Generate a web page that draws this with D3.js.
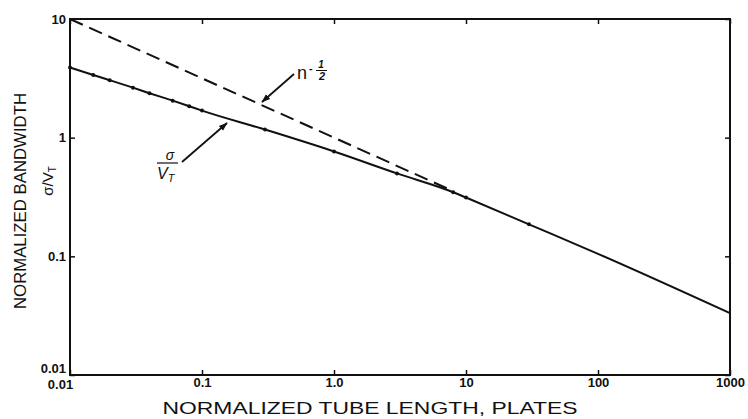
<!DOCTYPE html>
<html>
<head>
<meta charset="utf-8">
<script src="https://cdn.jsdelivr.net/npm/d3@7"></script>
<style>
  body { margin: 0; background: #fff; }
  text { font-family: "Liberation Sans", Arial, sans-serif; fill: #111; }
</style>
</head>
<body>
<div id="chart"></div>
<script>
// values
const plates = [0.01, 0.015, 0.02, 0.03, 0.04, 0.06, 0.08, 0.1, 0.3, 1, 3, 8, 10, 30, 100, 1000];
const bandwidth = [3.9, 3.37, 3.05, 2.64, 2.37, 2.05, 1.84, 1.69, 1.17, 0.765, 0.5, 0.347, 0.313, 0.186, 0.105, 0.0332];
const markerCount = 14; // dots drawn on the first 14 points
const asymPlates = [0.01, 8];
const asymValues = [10, 0.354];
const xTicks = [0.01, 0.1, 1, 10, 100, 1000];
const xTickLabels = ["0.01", "0.1", "1.0", "10", "100", "1000"];
const yTicks = [0.01, 0.1, 1, 10];
const yTickLabels = ["0.01", "0.1", "1", "10"];

const width = 748, height = 419;
const plotLeft = 70, plotRight = 730, plotTop = 19, plotBottom = 375;

const svg = d3.select("#chart").append("svg")
  .attr("width", width).attr("height", height);

const x = d3.scaleLog().domain([0.01, 1000]).range([plotLeft, plotRight]);
const y = d3.scaleLog().domain([0.01, 10]).range([plotBottom, plotTop]);

// arrowhead
svg.append("defs").append("marker")
  .attr("id", "arrow").attr("viewBox", "0 0 10 10")
  .attr("refX", 9).attr("refY", 5)
  .attr("markerWidth", 9).attr("markerHeight", 9)
  .attr("markerUnits", "userSpaceOnUse")
  .attr("orient", "auto")
  .append("path").attr("d", "M0,1.5 L10,5 L0,8.5 Z").attr("fill", "#111");

// frame with inward ticks on all four sides
const tickLen = 5;
svg.append("g").attr("transform", `translate(0,${plotBottom})`)
  .call(d3.axisBottom(x).tickValues(xTicks).tickSizeInner(-tickLen).tickSizeOuter(0).tickFormat((d, i) => xTickLabels[i]))
  .call(g => g.select(".domain").remove())
  .call(g => g.selectAll("line").attr("stroke", "#111").attr("stroke-width", 1.5))
  .call(g => g.selectAll("text").attr("dy", "0.6em").attr("y", 4)
    .style("font-size", "13px").style("font-weight", "bold"))
  .call(g => g.selectAll("text").filter(d => d === 0.01).attr("x", -10).attr("y", 6));

svg.append("g").attr("transform", `translate(0,${plotTop})`)
  .call(d3.axisTop(x).tickValues(xTicks).tickSizeInner(-tickLen).tickSizeOuter(0).tickFormat(""))
  .call(g => g.select(".domain").remove())
  .call(g => g.selectAll("line").attr("stroke", "#111").attr("stroke-width", 1.5));

svg.append("g").attr("transform", `translate(${plotLeft},0)`)
  .call(d3.axisLeft(y).tickValues(yTicks).tickSizeInner(-tickLen).tickSizeOuter(0).tickFormat((d, i) => yTickLabels[i]))
  .call(g => g.select(".domain").remove())
  .call(g => g.selectAll("line").attr("stroke", "#111").attr("stroke-width", 1.5))
  .call(g => g.selectAll("text").attr("x", -4)
    .style("font-size", "13px").style("font-weight", "bold"))
  .call(g => g.selectAll("text").filter(d => d === 0.01).attr("dy", "-0.2em"));

svg.append("g").attr("transform", `translate(${plotRight},0)`)
  .call(d3.axisRight(y).tickValues(yTicks).tickSizeInner(-tickLen).tickSizeOuter(0).tickFormat(""))
  .call(g => g.select(".domain").remove())
  .call(g => g.selectAll("line").attr("stroke", "#111").attr("stroke-width", 1.5));

svg.append("rect")
  .attr("x", plotLeft).attr("y", plotTop)
  .attr("width", plotRight - plotLeft).attr("height", plotBottom - plotTop)
  .attr("fill", "none").attr("stroke", "#111").attr("stroke-width", 2);

// curves
const pts = plates.map((p, i) => [p, bandwidth[i]]);
const line = d3.line().x(d => x(d[0])).y(d => y(d[1])).curve(d3.curveMonotoneX);

svg.append("path")
  .attr("d", line(asymPlates.map((p, i) => [p, asymValues[i]])))
  .attr("fill", "none").attr("stroke", "#111")
  .attr("stroke-width", 2).attr("stroke-dasharray", "14,7");

svg.append("path")
  .attr("d", line(pts))
  .attr("fill", "none").attr("stroke", "#111").attr("stroke-width", 2);

svg.append("g").selectAll("circle")
  .data(pts.slice(0, markerCount))
  .join("circle")
  .attr("cx", d => x(d[0])).attr("cy", d => y(d[1]))
  .attr("r", 2).attr("fill", "#111");

// annotation: n^-1/2
svg.append("line")
  .attr("x1", 294).attr("y1", 74).attr("x2", 262).attr("y2", 102)
  .attr("stroke", "#111").attr("stroke-width", 1.8).attr("marker-end", "url(#arrow)");
svg.append("text").attr("x", 297).attr("y", 79)
  .style("font-size", "18px").text("n");
svg.append("text").attr("x", 309).attr("y", 72)
  .style("font-size", "11px").style("font-weight", "bold").text("-");
svg.append("text").attr("x", 321).attr("y", 68).attr("text-anchor", "middle")
  .style("font-size", "10px").style("font-style", "italic").style("font-weight", "bold").text("1");
svg.append("line").attr("x1", 316).attr("x2", 327).attr("y1", 70.5).attr("y2", 70.5)
  .attr("stroke", "#111").attr("stroke-width", 1);
svg.append("text").attr("x", 322).attr("y", 80).attr("text-anchor", "middle")
  .style("font-size", "11px").style("font-style", "italic").style("font-weight", "bold").text("2");

// annotation: sigma / V_T
svg.append("line")
  .attr("x1", 182).attr("y1", 162).attr("x2", 227).attr("y2", 123)
  .attr("stroke", "#111").attr("stroke-width", 1.8).attr("marker-end", "url(#arrow)");
svg.append("text").attr("x", 170).attr("y", 160).attr("text-anchor", "middle")
  .style("font-size", "14px").style("font-style", "italic").text("σ");
svg.append("line").attr("x1", 157).attr("x2", 178).attr("y1", 163).attr("y2", 163)
  .attr("stroke", "#111").attr("stroke-width", 1.2);
svg.append("text").attr("x", 157).attr("y", 179)
  .style("font-size", "16px").style("font-style", "italic")
  .text("V").append("tspan").attr("dy", 3).style("font-size", "11px").text("T");

// axis titles
svg.append("text")
  .attr("transform", "translate(26,201) rotate(-90)")
  .attr("text-anchor", "middle")
  .attr("textLength", 216).attr("lengthAdjust", "spacingAndGlyphs")
  .style("font-size", "16px").text("NORMALIZED BANDWIDTH");
svg.append("text")
  .attr("transform", "translate(53,181) rotate(-90)")
  .attr("text-anchor", "middle")
  .style("font-size", "15px")
  .text("σ/V").append("tspan").attr("dy", 3).style("font-size", "10px").text("T");

svg.append("text")
  .attr("x", 370).attr("y", 414)
  .attr("text-anchor", "middle")
  .attr("textLength", 415).attr("lengthAdjust", "spacingAndGlyphs")
  .style("font-size", "17px").text("NORMALIZED TUBE LENGTH, PLATES");
</script>
</body>
</html>
